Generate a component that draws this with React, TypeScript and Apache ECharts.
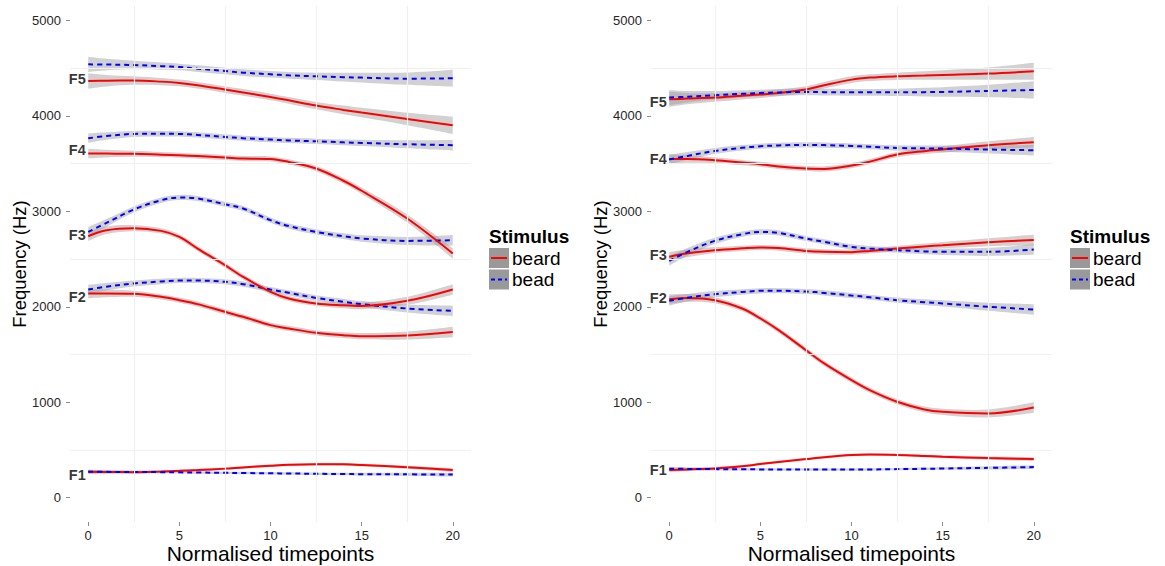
import React, { useEffect, useRef } from "react";
import * as echarts from "echarts";

// ---------- data ----------
const TIME = [0, 1, 2.5, 4, 5, 6, 7.5, 8.5, 10, 11, 12.5, 14, 15, 17.5, 20];
const X_TICKS = [0, 5, 10, 15, 20];
const Y_TICKS = [0, 1000, 2000, 3000, 4000, 5000];
const X_MINOR = [2.5, 7.5, 12.5, 17.5];
const Y_MINOR = [500, 1500, 2500, 3500, 4500];
const FORMANTS = ["F1", "F2", "F3", "F4", "F5"];
const STIMULI = ["beard", "bead"];

// left panel – beard (red)
const L_BEARD_F1 = [272, 270, 268, 275, 282, 290, 305, 318, 335, 345, 352, 350, 343, 320, 290];
const L_BEARD_F2 = [2139, 2140, 2136, 2104, 2069, 2028, 1947, 1895, 1808, 1773, 1727, 1703, 1692, 1700, 1737];
const L_BEARD_F3 = [2739, 2802, 2823, 2795, 2732, 2610, 2436, 2313, 2156, 2087, 2035, 2015, 2008, 2062, 2181];
const L_BEARD_F4 = [3605, 3604, 3602, 3593, 3587, 3578, 3563, 3552, 3548, 3517, 3448, 3320, 3215, 2924, 2558];
const L_BEARD_F5 = [4365, 4368, 4369, 4358, 4344, 4320, 4275, 4245, 4197, 4162, 4107, 4062, 4034, 3967, 3901];
// left panel – bead (blue)
const L_BEAD_F1 = [272, 271, 270, 268, 266, 264, 261, 259, 256, 254, 251, 248, 247, 245, 243];
const L_BEAD_F2 = [2181, 2210, 2244, 2265, 2275, 2275, 2261, 2237, 2181, 2146, 2093, 2052, 2027, 1982, 1957];
const L_BEAD_F3 = [2784, 2878, 3019, 3116, 3144, 3134, 3074, 3029, 2907, 2845, 2784, 2739, 2715, 2690, 2697];
const L_BEAD_F4 = [3765, 3788, 3810, 3812, 3810, 3800, 3779, 3765, 3751, 3742, 3733, 3722, 3716, 3702, 3692];
const L_BEAD_F5 = [4539, 4537, 4532, 4520, 4511, 4494, 4469, 4452, 4435, 4424, 4414, 4405, 4400, 4389, 4393];

// right panel – beard (red)
const R_BEARD_F1 = [290, 297, 307, 330, 353, 375, 405, 425, 447, 452, 448, 438, 430, 415, 405];
const R_BEARD_F2 = [2080, 2093, 2069, 1982, 1878, 1755, 1546, 1407, 1232, 1127, 1005, 925, 900, 883, 946];
const R_BEARD_F3 = [2523, 2560, 2593, 2612, 2621, 2615, 2585, 2575, 2572, 2585, 2610, 2632, 2645, 2676, 2700];
const R_BEARD_F4 = [3548, 3548, 3535, 3510, 3493, 3470, 3448, 3444, 3479, 3520, 3594, 3630, 3647, 3692, 3723];
const R_BEARD_F5 = [4173, 4180, 4191, 4210, 4222, 4240, 4275, 4320, 4379, 4400, 4414, 4422, 4428, 4442, 4466];
// right panel – bead (blue)
const R_BEAD_F1 = [304, 302, 300, 298, 297, 296, 296, 295, 295, 296, 300, 303, 306, 313, 321];
const R_BEAD_F2 = [2062, 2095, 2132, 2155, 2167, 2168, 2160, 2145, 2118, 2100, 2069, 2048, 2035, 2000, 1972];
const R_BEAD_F3 = [2481, 2575, 2690, 2760, 2784, 2774, 2715, 2680, 2627, 2610, 2593, 2580, 2575, 2575, 2600];
const R_BEAD_F4 = [3542, 3580, 3632, 3665, 3681, 3690, 3695, 3693, 3684, 3676, 3663, 3659, 3657, 3647, 3639];
const R_BEAD_F5 = [4191, 4200, 4215, 4230, 4239, 4245, 4250, 4248, 4246, 4246, 4246, 4248, 4250, 4260, 4271];

// confidence band half-widths (Hz)
const CI_THIN = [20, 16, 14, 12, 12, 12, 12, 12, 12, 12, 12, 13, 14, 16, 20];
const CI_MID = [50, 40, 32, 28, 27, 27, 27, 27, 27, 27, 28, 30, 33, 42, 55];
const CI_WIDE = [80, 60, 45, 38, 35, 35, 35, 35, 35, 35, 38, 45, 50, 65, 90];

// formant label heights
const L_LABEL_Y = [238, 2098, 2750, 3647, 4390];
const R_LABEL_Y = [290, 2090, 2540, 3545, 4145];

const PANELS = [
  {
    beard: [L_BEARD_F1, L_BEARD_F2, L_BEARD_F3, L_BEARD_F4, L_BEARD_F5],
    bead: [L_BEAD_F1, L_BEAD_F2, L_BEAD_F3, L_BEAD_F4, L_BEAD_F5],
    ci: [CI_THIN, CI_MID, CI_MID, CI_MID, CI_WIDE],
    labels: L_LABEL_Y,
  },
  {
    beard: [R_BEARD_F1, R_BEARD_F2, R_BEARD_F3, R_BEARD_F4, R_BEARD_F5],
    bead: [R_BEAD_F1, R_BEAD_F2, R_BEAD_F3, R_BEAD_F4, R_BEAD_F5],
    ci: [CI_THIN, CI_MID, CI_MID, CI_MID, CI_WIDE],
    labels: R_LABEL_Y,
  },
];

const FONT = "'Liberation Sans', Arial, Helvetica, sans-serif";
const COLORS: Record<string, string> = { beard: "#ff0000", bead: "#0000ff" };
const GRID_LEFTS = [70, 651];
const GRID_TOP = 6;
const GRID_W = 401;
const GRID_H = 516;
const SMOOTH = 0.35;

// bezier control points like ECharts' line smoothing, in pixel space
function smoothSegments(pts: number[][]) {
  const n = pts.length;
  const cpNext: number[][] = [];
  const cpPrev: number[][] = [];
  for (let i = 0; i < n; i++) {
    const [x, y] = pts[i];
    if (i === 0 || i === n - 1) {
      cpNext[i] = [x, y];
      cpPrev[i] = [x, y];
      continue;
    }
    const [px, py] = pts[i - 1];
    const [nx, ny] = pts[i + 1];
    const vx = nx - px;
    const vy = ny - py;
    const l0 = Math.hypot(x - px, y - py);
    const l1 = Math.hypot(nx - x, ny - y);
    const r = l1 / (l0 + l1 || 1);
    cpNext[i] = [x + vx * SMOOTH * r, y + vy * SMOOTH * r];
    cpPrev[i] = [x - vx * SMOOTH * (1 - r), y - vy * SMOOTH * (1 - r)];
  }
  return { cpNext, cpPrev };
}

function bandPath(upper: number[][], lower: number[][]) {
  const u = smoothSegments(upper);
  const l = smoothSegments(lower);
  const n = upper.length;
  let d = `M${upper[0][0]},${upper[0][1]}`;
  for (let i = 1; i < n; i++) {
    d += `C${u.cpNext[i - 1][0]},${u.cpNext[i - 1][1]},${u.cpPrev[i][0]},${u.cpPrev[i][1]},${upper[i][0]},${upper[i][1]}`;
  }
  d += `L${lower[n - 1][0]},${lower[n - 1][1]}`;
  for (let i = n - 2; i >= 0; i--) {
    d += `C${l.cpPrev[i + 1][0]},${l.cpPrev[i + 1][1]},${l.cpNext[i][0]},${l.cpNext[i][1]},${lower[i][0]},${lower[i][1]}`;
  }
  d += "Z";
  return d;
}

function buildOption() {
  const grids: any[] = [];
  const xAxes: any[] = [];
  const yAxes: any[] = [];
  const series: any[] = [];
  const graphics: any[] = [];

  PANELS.forEach((p, g) => {
    grids.push({
      left: GRID_LEFTS[g],
      top: GRID_TOP,
      width: GRID_W,
      height: GRID_H,
      containLabel: false,
      outerBoundsMode: "none",
    });
    xAxes.push({
      type: "value",
      gridIndex: g,
      min: -1,
      max: 21,
      name: "Normalised timepoints",
      nameLocation: "middle",
      nameGap: 21,
      nameMoveOverlap: false,
      nameTextStyle: { fontSize: 21, color: "#000", fontFamily: FONT },
      axisLine: { show: false, onZero: false },
      axisTick: { show: true, length: 4, customValues: X_TICKS, lineStyle: { color: "#8c8c8c", width: 1 } },
      axisLabel: {
        customValues: X_TICKS,
        fontSize: 13,
        color: "#262626",
        margin: 7,
        fontFamily: FONT,
        formatter: (v: number) => String(v),
      },
      splitLine: { show: false },
    });
    yAxes.push({
      type: "value",
      gridIndex: g,
      min: -254,
      max: 5150,
      name: "Frequency (Hz)",
      nameLocation: "middle",
      nameGap: 41,
      nameMoveOverlap: false,
      nameRotate: 90,
      nameTextStyle: { fontSize: 18.5, color: "#000", fontFamily: FONT },
      axisLine: { show: false, onZero: false },
      axisTick: { show: true, length: 4, customValues: Y_TICKS, lineStyle: { color: "#8c8c8c", width: 1 } },
      axisLabel: {
        customValues: Y_TICKS,
        fontSize: 13,
        color: "#262626",
        margin: 9,
        fontFamily: FONT,
        formatter: (v: number) => String(v),
      },
      splitLine: { show: false },
    });

    // faint minor gridlines
    series.push({
      type: "line",
      xAxisIndex: g,
      yAxisIndex: g,
      data: [],
      z: 1,
      silent: true,
      markLine: {
        silent: true,
        symbol: "none",
        label: { show: false },
        lineStyle: { color: "#f0f0f0", width: 1.2, type: "solid" },
        data: [...X_MINOR.map((x) => ({ xAxis: x })), ...Y_MINOR.map((y) => ({ yAxis: y }))],
      },
    });

    // confidence bands (custom series, one item per smoothed curve)
    const bands: { vals: number[]; ci: number[] }[] = [];
    FORMANTS.forEach((f, i) => {
      STIMULI.forEach((s) => {
        bands.push({ vals: (p as any)[s][i], ci: p.ci[i] });
      });
    });
    series.push({
      type: "custom",
      coordinateSystem: "cartesian2d",
      xAxisIndex: g,
      yAxisIndex: g,
      silent: true,
      z: 2,
      data: bands.map((_, i) => [10, 2500, i]),
      renderItem: (params: any, api: any) => {
        const b = bands[params.dataIndex];
        const upper = TIME.map((t, k) => api.coord([t, b.vals[k] + b.ci[k]]));
        const lower = TIME.map((t, k) => api.coord([t, b.vals[k] - b.ci[k]]));
        return {
          type: "path",
          shape: { pathData: bandPath(upper, lower) },
          style: { fill: "rgba(153,153,153,0.45)", stroke: "none" },
        };
      },
    });

    // smoothed lines
    FORMANTS.forEach((f, i) => {
      STIMULI.forEach((s) => {
        const vals: number[] = (p as any)[s][i];
        series.push({
          type: "line",
          name: s,
          xAxisIndex: g,
          yAxisIndex: g,
          smooth: SMOOTH,
          symbol: "none",
          z: 4,
          lineStyle: { color: COLORS[s], width: 2, type: s === "bead" ? [5, 4] : "solid" },
          data: TIME.map((t, k) => [t, vals[k]]),
        });
      });
    });

    // formant labels
    series.push({
      type: "scatter",
      xAxisIndex: g,
      yAxisIndex: g,
      symbol: "circle",
      symbolSize: 1,
      itemStyle: { color: "rgba(0,0,0,0)" },
      z: 5,
      silent: true,
      data: p.labels.map((y, i) => ({
        value: [0, y],
        label: {
          show: true,
          formatter: FORMANTS[i],
          position: "left",
          distance: 2,
          fontSize: 14.5,
          fontWeight: "bold",
          color: "#000",
          fontFamily: FONT,
        },
      })),
    });

    // legend
    const lx = GRID_LEFTS[g] + GRID_W + 18;
    graphics.push(
      { type: "text", left: lx, top: 227, style: { text: "Stimulus", fontSize: 19, fontWeight: "bold", fill: "#000", fontFamily: FONT } },
      { type: "rect", shape: { x: lx, y: 248, width: 20, height: 20 }, style: { fill: "#999999" } },
      { type: "rect", shape: { x: lx, y: 269.5, width: 20, height: 20 }, style: { fill: "#999999" } },
      { type: "line", shape: { x1: lx + 2, y1: 258, x2: lx + 18, y2: 258 }, style: { stroke: "#ff0000", lineWidth: 2 } },
      { type: "line", shape: { x1: lx + 2, y1: 279.5, x2: lx + 18, y2: 279.5 }, style: { stroke: "#0000ff", lineWidth: 2, lineDash: [4, 3] } },
      { type: "text", left: lx + 23, top: 249, style: { text: STIMULI[0], fontSize: 19, fill: "#000", fontFamily: FONT } },
      { type: "text", left: lx + 23, top: 270, style: { text: STIMULI[1], fontSize: 19, fill: "#000", fontFamily: FONT } }
    );
  });

  return {
    animation: false,
    backgroundColor: "#ffffff",
    textStyle: { fontFamily: FONT },
    grid: grids,
    xAxis: xAxes,
    yAxis: yAxes,
    series,
    graphic: graphics,
  };
}

export default function App() {
  const ref = useRef<HTMLDivElement>(null);
  useEffect(() => {
    if (!ref.current) return;
    const chart = echarts.init(ref.current, undefined, { renderer: "svg" });
    chart.setOption(buildOption() as any);
    return () => chart.dispose();
  }, []);
  return (
    <div
      ref={ref}
      style={{ position: "absolute", left: 0, top: 0, width: 1165, height: 566, background: "#fff" }}
    />
  );
}
